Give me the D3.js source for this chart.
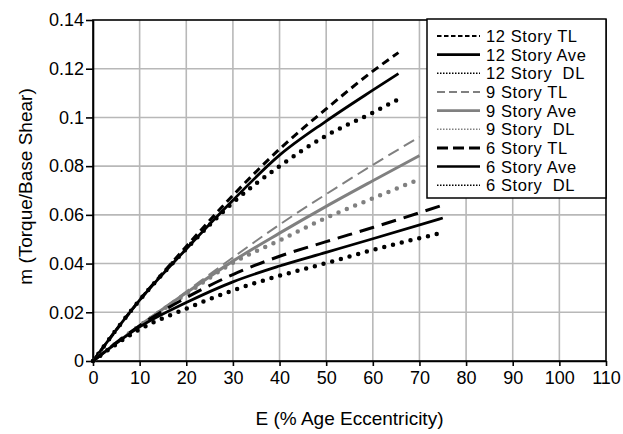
<!DOCTYPE html>
<html>
<head>
<meta charset="utf-8">
<script src="https://cdn.jsdelivr.net/npm/d3@7"></script>
<style>
  html, body { margin: 0; padding: 0; background: #fff; }
  svg { display: block; font-family: "Liberation Sans", Arial, sans-serif; }
</style>
</head>
<body>
<svg id="chart" width="623" height="434"></svg>
<script>
// Eccentricity (%) sample points for each building height
const e12 = [0, 10, 20, 30, 40, 50, 60, 65.5];
const e9  = [0, 10, 20, 30, 40, 50, 60, 70];
const e6  = [0, 10, 20, 30, 40, 50, 60, 75];

// m = torque / base shear
const m12TL  = [0, 0.025, 0.047, 0.068, 0.087, 0.1035, 0.119, 0.1266];
const m12Ave = [0, 0.025, 0.046, 0.066, 0.0845, 0.0985, 0.1112, 0.118];
const m12DL  = [0, 0.025, 0.046, 0.065, 0.080, 0.0925, 0.102, 0.1075];

const m9TL  = [0, 0.0145, 0.0285, 0.0425, 0.056, 0.0685, 0.0805, 0.092];
const m9Ave = [0, 0.0145, 0.028, 0.041, 0.0525, 0.0635, 0.074, 0.0843];
const m9DL  = [0, 0.0145, 0.0275, 0.0403, 0.0495, 0.0588, 0.0668, 0.0746];

const m6TL  = [0, 0.0145, 0.026, 0.0355, 0.043, 0.049, 0.0548, 0.064];
const m6Ave = [0, 0.014, 0.024, 0.0325, 0.039, 0.0446, 0.0502, 0.0587];
const m6DL  = [0, 0.013, 0.0215, 0.029, 0.035, 0.0402, 0.0456, 0.0527];

const seriesNames = ["12 Story TL", "12 Story Ave", "12 Story  DL",
                     "9 Story TL", "9 Story Ave", "9 Story  DL",
                     "6 Story TL", "6 Story Ave", "6 Story  DL"];

const xTicks = [0, 10, 20, 30, 40, 50, 60, 70, 80, 90, 100, 110];
const yTicks = [0, 0.02, 0.04, 0.06, 0.08, 0.1, 0.12, 0.14];

const xTitle = "E (% Age Eccentricity)";
const yTitle = "m (Torque/Base Shear)";

// line styles: plot stroke and legend sample stroke
const GRAY = "#808080";
const styles = [
  { color: "#000", width: 3,   dash: "8 5",  cap: "butt",  lw: 2.2, ldash: "4.5 2.5" },
  { color: "#000", width: 2.8, dash: null,   cap: "butt",  lw: 2.6, ldash: null },
  { color: "#000", width: 4.5, dash: "0 9",  cap: "round", lw: 1.5, ldash: "1.5 1.5" },
  { color: GRAY,   width: 2,   dash: "12 6", cap: "butt",  lw: 2,   ldash: "8 4" },
  { color: GRAY,   width: 3,   dash: null,   cap: "butt",  lw: 2.6, ldash: null },
  { color: GRAY,   width: 4.5, dash: "0 9",  cap: "round", lw: 1.5, ldash: "1.5 1.5" },
  { color: "#000", width: 3,   dash: "15 8", cap: "butt",  lw: 3,   ldash: "11 5" },
  { color: "#000", width: 2.8, dash: null,   cap: "butt",  lw: 2.6, ldash: null },
  { color: "#000", width: 4.5, dash: "0 9",  cap: "round", lw: 1.5, ldash: "1.5 1.5" }
];

const seriesX = [e12, e12, e12, e9, e9, e9, e6, e6, e6];
const seriesY = [m12TL, m12Ave, m12DL, m9TL, m9Ave, m9DL, m6TL, m6Ave, m6DL];

const series = seriesNames.map((name, i) => ({
  name,
  style: styles[i],
  points: seriesX[i].map((e, j) => ({ e, m: seriesY[i][j] }))
}));

const svg = d3.select("#chart");
const plot = { left: 93, right: 606, top: 20, bottom: 361 };

const x = d3.scaleLinear().domain([0, 110]).range([plot.left, plot.right]);
const y = d3.scaleLinear().domain([0, 0.14]).range([plot.bottom, plot.top]);

// grid
const grid = svg.append("g").attr("stroke", "#b8b8b8").attr("stroke-width", 1.6);
grid.selectAll("line.v").data(xTicks.slice(1, -1)).join("line")
  .attr("x1", d => x(d)).attr("x2", d => x(d))
  .attr("y1", plot.top).attr("y2", plot.bottom);
grid.selectAll("line.h").data(yTicks.slice(1, -1)).join("line")
  .attr("y1", d => y(d)).attr("y2", d => y(d))
  .attr("x1", plot.left).attr("x2", plot.right);

// frame
svg.append("rect")
  .attr("x", plot.left).attr("y", plot.top)
  .attr("width", plot.right - plot.left).attr("height", plot.bottom - plot.top)
  .attr("fill", "none").attr("stroke", "#000").attr("stroke-width", 1.6);

// axes
const fmtY = d => d === 0 ? "0" : String(+d.toFixed(2));
const xAxis = svg.append("g")
  .attr("transform", `translate(0,${plot.bottom})`)
  .call(d3.axisBottom(x).tickValues(xTicks).tickSize(5).tickSizeOuter(0).tickPadding(5));
const yAxis = svg.append("g")
  .attr("transform", `translate(${plot.left},0)`)
  .call(d3.axisLeft(y).tickValues(yTicks).tickFormat(fmtY).tickSize(7).tickSizeOuter(0).tickPadding(2));
[xAxis, yAxis].forEach(a => {
  a.select(".domain").attr("stroke", "#000").attr("stroke-width", 1.6);
  a.selectAll(".tick line").attr("stroke", "#000").attr("stroke-width", 1.6);
  a.selectAll(".tick text").attr("fill", "#000")
    .style("font-size", "18px").style("font-family", "'Liberation Sans', Arial, sans-serif");
});

// axis titles
svg.append("text")
  .attr("x", (plot.left + plot.right) / 2).attr("y", 425)
  .attr("text-anchor", "middle").style("font-size", "19px")
  .text(xTitle);
svg.append("text")
  .attr("transform", `translate(32,${(plot.top + plot.bottom) / 2 - 4}) rotate(-90)`)
  .attr("text-anchor", "middle").style("font-size", "19px")
  .text(yTitle);

// curves
const line = d3.line().x(d => x(d.e)).y(d => y(d.m)).curve(d3.curveMonotoneX);
svg.append("g").selectAll("path").data(series).join("path")
  .attr("d", d => line(d.points))
  .attr("fill", "none")
  .attr("stroke", d => d.style.color)
  .attr("stroke-width", d => d.style.width)
  .attr("stroke-dasharray", d => d.style.dash)
  .attr("stroke-linecap", d => d.style.cap)
  .attr("stroke-linejoin", "round");

// legend
const leg = svg.append("g");
leg.append("rect")
  .attr("x", 427).attr("y", 19).attr("width", 179).attr("height", 179)
  .attr("fill", "#fff").attr("stroke", "#000").attr("stroke-width", 1.5);
const rows = leg.selectAll("g.row").data(series).join("g")
  .attr("transform", (d, i) => `translate(0,${36 + i * 18.65})`);
rows.append("line")
  .attr("x1", 437).attr("x2", 480).attr("y1", 0).attr("y2", 0)
  .attr("stroke", d => d.style.color)
  .attr("stroke-width", d => d.style.lw)
  .attr("stroke-dasharray", d => d.style.ldash);
rows.append("text")
  .attr("x", 486).attr("y", 0).attr("dy", "0.36em")
  .style("font-size", "16.5px").style("letter-spacing", "0.6px").style("white-space", "pre")
  .text(d => d.name);
</script>
</body>
</html>
